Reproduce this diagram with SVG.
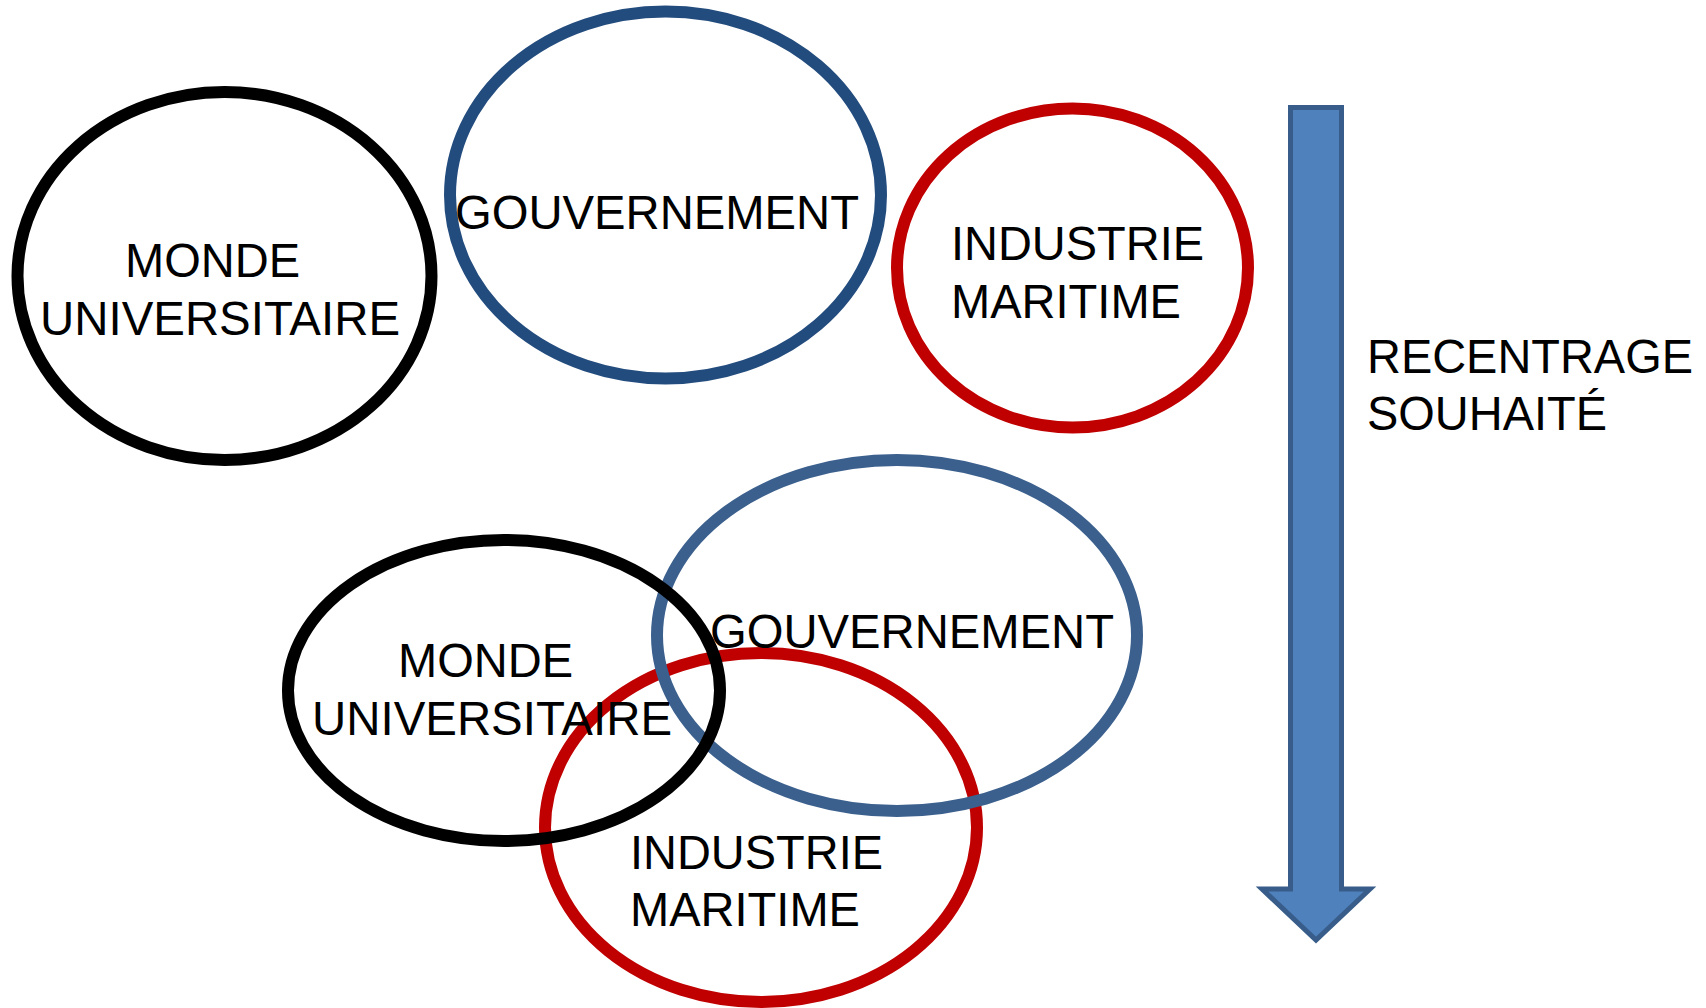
<svg xmlns="http://www.w3.org/2000/svg" width="1706" height="1008" viewBox="0 0 1706 1008">
<style>
.ring{fill:none;stroke-width:12}
.k{stroke:#000000}
.b1{stroke:#234C7E}
.b2{stroke:#3B608E}
.r{stroke:#C00000}
text{font-family:"Liberation Sans",Arial,sans-serif;font-size:48.5px;fill:#000000}
</style>
<rect width="1706" height="1008" fill="#ffffff"/>
<g id="top-monde">
<ellipse class="ring k" cx="224.5" cy="276" rx="207" ry="184"/>
<text x="125" y="277" textLength="175" lengthAdjust="spacingAndGlyphs">MONDE</text>
<text x="40" y="334.5" textLength="360" lengthAdjust="spacingAndGlyphs">UNIVERSITAIRE</text>
</g>
<g id="top-gouvernement">
<ellipse class="ring b1" cx="665.5" cy="195" rx="215.5" ry="183.5"/>
<text x="455" y="229" textLength="404" lengthAdjust="spacingAndGlyphs">GOUVERNEMENT</text>
</g>
<g id="top-industrie">
<ellipse class="ring r" cx="1072.5" cy="268" rx="175.5" ry="159.5"/>
<text x="951" y="260" textLength="253" lengthAdjust="spacingAndGlyphs">INDUSTRIE</text>
<text x="951" y="318" textLength="230" lengthAdjust="spacingAndGlyphs">MARITIME</text>
</g>
<g id="bottom-industrie">
<ellipse class="ring r" cx="761" cy="827.5" rx="216" ry="174.5"/>
</g>
<g id="bottom-gouvernement">
<ellipse class="ring b2" cx="897" cy="635.5" rx="240" ry="175.5"/>
</g>
<g id="bottom-monde">
<ellipse class="ring k" cx="504" cy="690.5" rx="216" ry="150.5"/>
</g>
<g id="bottom-labels">
<text x="398" y="677" textLength="175" lengthAdjust="spacingAndGlyphs">MONDE</text>
<text x="312" y="734.5" textLength="360" lengthAdjust="spacingAndGlyphs">UNIVERSITAIRE</text>
<text x="710" y="648" textLength="404" lengthAdjust="spacingAndGlyphs">GOUVERNEMENT</text>
<text x="630" y="869" textLength="253" lengthAdjust="spacingAndGlyphs">INDUSTRIE</text>
<text x="630" y="926" textLength="230" lengthAdjust="spacingAndGlyphs">MARITIME</text>
</g>
<g id="arrow">
<polygon points="1290.5,107.5 1341.5,107.5 1341.5,889 1370,889 1316,940 1262,889 1290.5,889" fill="#4F81BD" stroke="#385D8A" stroke-width="5" stroke-linejoin="miter"/>
<text x="1367" y="373" textLength="326" lengthAdjust="spacingAndGlyphs">RECENTRAGE</text>
<text x="1367" y="430" textLength="240" lengthAdjust="spacingAndGlyphs">SOUHAITÉ</text>
</g>
</svg>
